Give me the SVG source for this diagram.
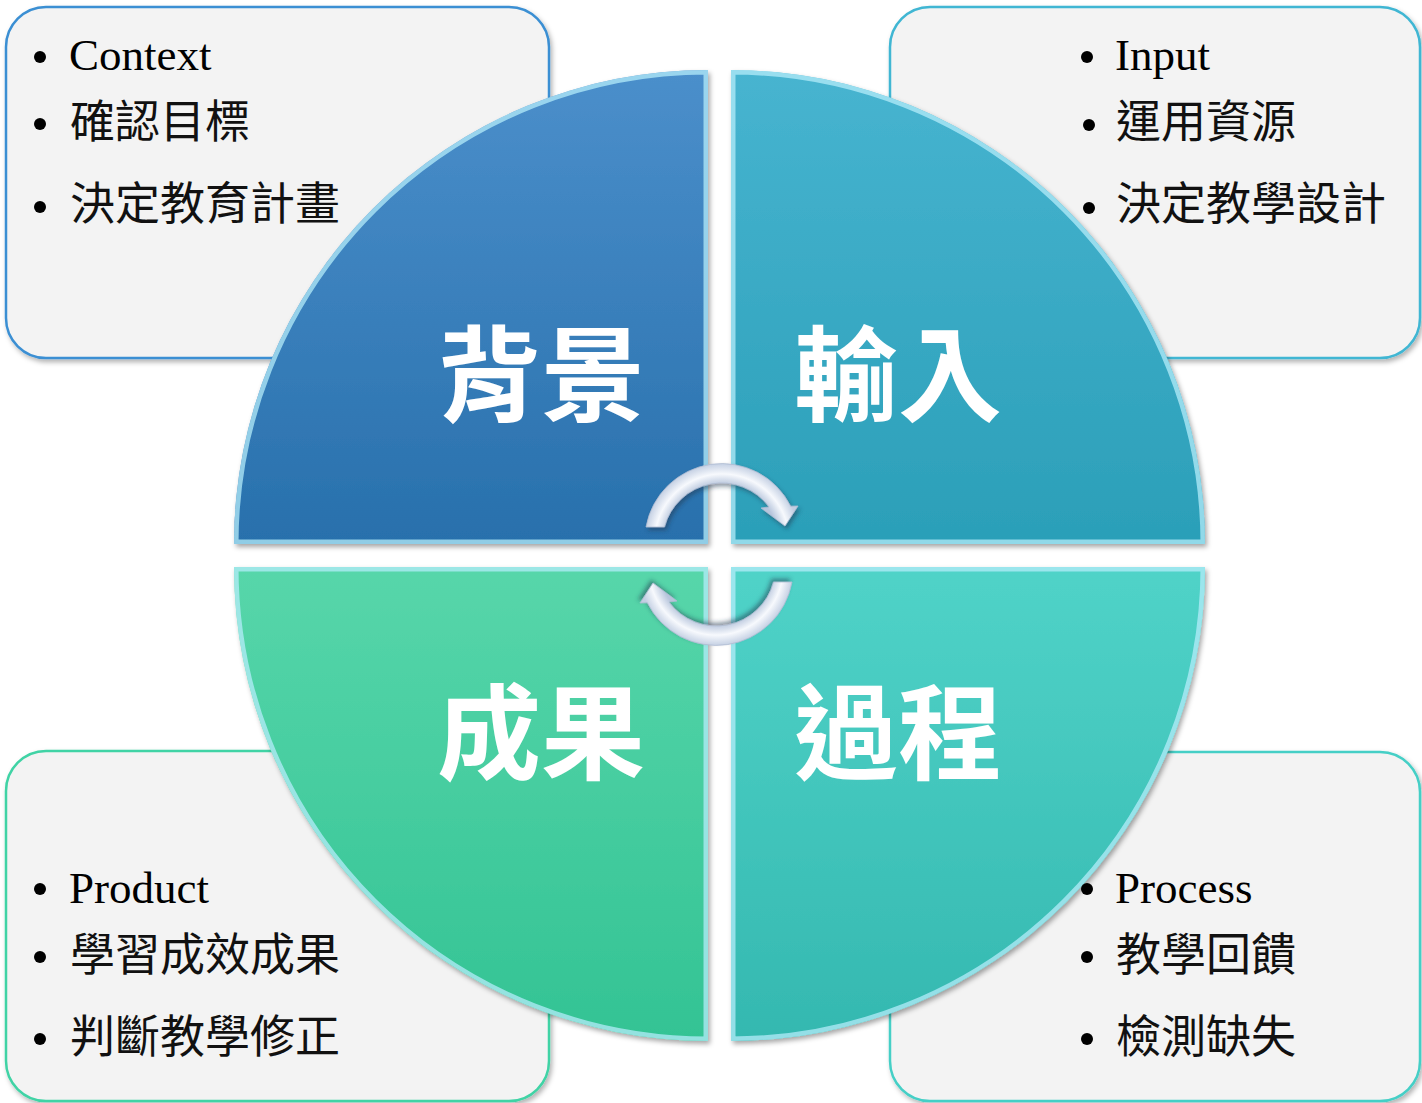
<svg xmlns="http://www.w3.org/2000/svg" xmlns:xlink="http://www.w3.org/1999/xlink" width="1422" height="1103" viewBox="0 0 1422 1103">
<style>
  .box { fill: #f3f3f3; stroke-width: 2.5; filter: url(#boxShadow); }
  .en { font-family: "Liberation Serif", "Times New Roman", serif; font-size: 45px; fill: #000; }
  .zh { font-family: "Noto Sans CJK TC", "Noto Sans CJK SC", sans-serif; font-size: 45px; fill: #111; }
  .big { font-family: "Noto Sans CJK TC", "Noto Sans CJK SC", sans-serif; font-size: 104px; font-weight: bold; fill: #fff; text-anchor: middle; }
  .dot { fill: #000; }
  .bevel { fill: none; stroke: #b4ecfa; stroke-width: 9; opacity: 0.75; }
  .arrow { fill: url(#arrowGrad); stroke: #aebbd2; stroke-width: 0.8; filter: url(#arrowShadow); }
</style>
<defs>
  <filter id="boxShadow" x="-5%" y="-5%" width="115%" height="115%">
    <feDropShadow dx="2" dy="3" stdDeviation="2.5" flood-color="#000" flood-opacity="0.3"/>
  </filter>
  <filter id="quadShadow" x="-5%" y="-5%" width="115%" height="115%">
    <feDropShadow dx="2" dy="3" stdDeviation="2.5" flood-color="#000" flood-opacity="0.35"/>
  </filter>
  <filter id="arrowShadow" x="-20%" y="-20%" width="140%" height="150%">
    <feDropShadow dx="2" dy="3" stdDeviation="2" flood-color="#1b3550" flood-opacity="0.5"/>
  </filter>
  <linearGradient id="gTL" x1="0" y1="0" x2="0" y2="1">
    <stop offset="0" stop-color="#4b8fcb"/>
    <stop offset="1" stop-color="#2870ac"/>
  </linearGradient>
  <linearGradient id="gTR" x1="0" y1="0" x2="0" y2="1">
    <stop offset="0" stop-color="#47b4d0"/>
    <stop offset="1" stop-color="#2b9fb8"/>
  </linearGradient>
  <linearGradient id="gBL" x1="0" y1="0" x2="0" y2="1">
    <stop offset="0" stop-color="#57d6aa"/>
    <stop offset="1" stop-color="#33c394"/>
  </linearGradient>
  <linearGradient id="gBR" x1="0" y1="0" x2="0" y2="1">
    <stop offset="0" stop-color="#50d3c8"/>
    <stop offset="1" stop-color="#34b8b0"/>
  </linearGradient>
  <radialGradient id="arrowGrad" gradientUnits="userSpaceOnUse" cx="722" cy="541" r="78">
    <stop offset="0.72" stop-color="#b7c5dc"/>
    <stop offset="0.86" stop-color="#f7f9fd"/>
    <stop offset="1" stop-color="#c2cee2"/>
  </radialGradient>
  <path id="q1" d="M708,544 L234,544 A474,474 0 0 1 708,70 Z"/>
  <path id="q2" d="M731,544 L731,70 A474,474 0 0 1 1205,544 Z"/>
  <path id="q3" d="M708,567 L708,1041 A474,474 0 0 1 234,567 Z"/>
  <path id="q4" d="M731,567 L1205,567 A474,474 0 0 1 731,1041 Z"/>
  <clipPath id="c1"><use xlink:href="#q1"/></clipPath>
  <clipPath id="c2"><use xlink:href="#q2"/></clipPath>
  <clipPath id="c3"><use xlink:href="#q3"/></clipPath>
  <clipPath id="c4"><use xlink:href="#q4"/></clipPath>
</defs>

<rect width="1422" height="1103" fill="#ffffff"/>

<!-- box backgrounds -->
<g id="box-context-bg"><rect class="box" x="6" y="7" width="543" height="351" rx="40" stroke="#3b8fd3"/></g>
<g id="box-input-bg"><rect class="box" x="890" y="7" width="530" height="351" rx="40" stroke="#3fb6d3"/></g>
<g id="box-product-bg"><rect class="box" x="6" y="751" width="543" height="350" rx="40" stroke="#3fd3a5"/></g>
<g id="box-process-bg"><rect class="box" x="890" y="752" width="530" height="349" rx="40" stroke="#44cfc6"/></g>

<!-- quadrants -->
<g id="quad-background">
  <use xlink:href="#q1" fill="url(#gTL)" filter="url(#quadShadow)"/>
  <g clip-path="url(#c1)"><use xlink:href="#q1" class="bevel"/></g>
  <text class="big" x="541" y="414">背景</text>
</g>
<g id="quad-input">
  <use xlink:href="#q2" fill="url(#gTR)" filter="url(#quadShadow)"/>
  <g clip-path="url(#c2)"><use xlink:href="#q2" class="bevel"/></g>
  <text class="big" x="898" y="414">輸入</text>
</g>
<g id="quad-product">
  <use xlink:href="#q3" fill="url(#gBL)" filter="url(#quadShadow)"/>
  <g clip-path="url(#c3)"><use xlink:href="#q3" class="bevel"/></g>
  <text class="big" x="541" y="772">成果</text>
</g>
<g id="quad-process">
  <use xlink:href="#q4" fill="url(#gBR)" filter="url(#quadShadow)"/>
  <g clip-path="url(#c4)"><use xlink:href="#q4" class="bevel"/></g>
  <text class="big" x="898" y="772">過程</text>
</g>

<!-- box texts -->
<g id="box-context">
  <circle class="dot" cx="40" cy="57" r="6"/>
  <text class="en" x="69" y="70">Context</text>
  <circle class="dot" cx="40" cy="124" r="6"/>
  <text class="zh" x="70" y="138">確認目標</text>
  <circle class="dot" cx="40" cy="207" r="6"/>
  <text class="zh" x="70" y="220">決定教育計畫</text>
</g>
<g id="box-input">
  <circle class="dot" cx="1087" cy="57" r="6"/>
  <text class="en" x="1115" y="70">Input</text>
  <circle class="dot" cx="1089" cy="125" r="6"/>
  <text class="zh" x="1116" y="138">運用資源</text>
  <circle class="dot" cx="1089" cy="208" r="6"/>
  <text class="zh" x="1116" y="220">決定教學設計</text>
</g>
<g id="box-product">
  <circle class="dot" cx="40" cy="889" r="6"/>
  <text class="en" x="69" y="903">Product</text>
  <circle class="dot" cx="40" cy="957" r="6"/>
  <text class="zh" x="70" y="971">學習成效成果</text>
  <circle class="dot" cx="40" cy="1039" r="6"/>
  <text class="zh" x="70" y="1053">判斷教學修正</text>
</g>
<g id="box-process">
  <circle class="dot" cx="1087" cy="889" r="6"/>
  <text class="en" x="1115" y="903">Process</text>
  <circle class="dot" cx="1087" cy="957" r="6"/>
  <text class="zh" x="1116" y="971">教學回饋</text>
  <circle class="dot" cx="1087" cy="1039" r="6"/>
  <text class="zh" x="1116" y="1053">檢測缺失</text>
</g>

<!-- connectors: circular arrows -->
<g id="connectors">
  <path id="arrow-top" class="arrow" d="M646,527 A77,77 0 0 1 790.7,506.2 L798,506 L785,526 L761,508 L769,507 A59,59 0 0 0 664.5,527 Z"/>
  <path id="arrow-bottom" class="arrow" transform="rotate(180 719 554.5)" d="M646,527 A77,77 0 0 1 790.7,506.2 L798,506 L785,526 L761,508 L769,507 A59,59 0 0 0 664.5,527 Z"/>
</g>
</svg>
